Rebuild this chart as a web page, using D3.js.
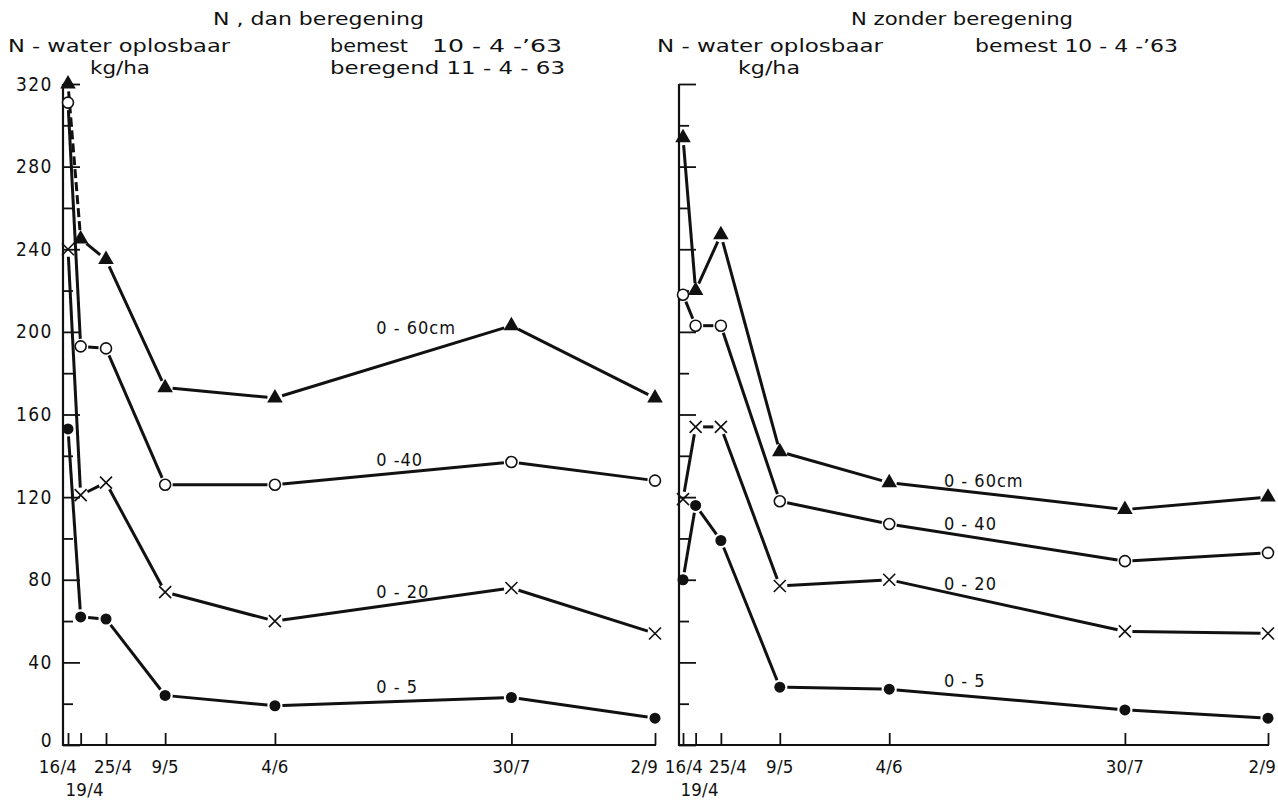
<!DOCTYPE html>
<html>
<head>
<meta charset="utf-8">
<script src="https://cdn.jsdelivr.net/npm/d3@7"></script>
<style>
  html, body { margin: 0; padding: 0; background: #fff; }
  svg { display: block; }
  text { font-family: "DejaVu Sans Condensed", "DejaVu Sans", sans-serif; fill: #111; }
</style>
</head>
<body>
<svg id="chart" width="1278" height="800"></svg>
<script>
// ---------- data ----------
const dates = ["1963-04-16", "1963-04-19", "1963-04-25", "1963-05-09", "1963-06-04", "1963-07-30", "1963-09-02"];
const dateLabels = ["16/4", "19/4", "25/4", "9/5", "4/6", "30/7", "2/9"];
const yTickValues = [0, 20, 40, 60, 80, 100, 120, 140, 160, 180, 200, 220, 240, 260, 280, 300, 320];
const yLabelValues = [0, 40, 80, 120, 160, 200, 240, 280, 320];
const seriesNames = ["0 - 60cm", "0 - 40", "0 - 20", "0 -  5"];
const seriesNamesLeft = ["0 - 60cm", "0 -40", "0 - 20", "0 -  5"];

// left panel: N, dan beregening
const leftTriangle = [320, 245, 235, 173, 168, 203, 168];
const leftCircle   = [311, 193, 192, 126, 126, 137, 128];
const leftCross    = [240, 121, 127, 74, 60, 76, 54];
const leftDot      = [153, 62, 61, 24, 19, 23, 13];

// right panel: N zonder beregening
const rightTriangle = [294, 220, 247, 142, 127, 114, 120];
const rightCircle   = [218, 203, 203, 118, 107, 89, 93];
const rightCross    = [119, 154, 154, 77, 80, 55, 54];
const rightDot      = [80, 116, 99, 28, 27, 17, 13];

// label anchor positions (data units: date, value)
const leftLabelDates  = ["1963-06-28", "1963-06-28", "1963-06-28", "1963-06-28"];
const leftLabelValues = [199, 135, 71, 25];
const rightLabelDates  = ["1963-06-17", "1963-06-17", "1963-06-17", "1963-06-17"];
const rightLabelValues = [125, 104, 75, 28];

// ---------- setup ----------
const parse = d3.timeParse("%Y-%m-%d");
const dateObjs = dates.map(parse);
const svg = d3.select("#chart");
const INK = "#111";

const y = d3.scaleLinear().domain([0, 320]).range([745, 84]);

function panel(opts) {
  const x = d3.scaleTime().domain([dateObjs[0], dateObjs[dateObjs.length - 1]]).range([opts.x0, opts.x1]);
  const g = svg.append("g");

  // y axis
  const yAxis = d3.axisLeft(y).tickValues(yTickValues).tickSize(-17).tickSizeOuter(0)
    .tickFormat(d => (opts.yLabels && yLabelValues.includes(d)) ? d : "");
  const ya = g.append("g").attr("transform", `translate(${opts.axisX},0)`).call(yAxis);
  ya.select(".domain").remove();
  ya.selectAll(".tick line").attr("stroke", INK).attr("stroke-width", 1.8)
    .attr("x2", d => (d % 40 === 0) ? 17 : 10);
  ya.selectAll(".tick text").attr("x", -10).style("font-size", "19px")
    .attr("dy", d => d === 0 ? "0.1em" : "0.32em")
    .style("letter-spacing", "1.5px").attr("fill", INK)
    .style("font-family", "\"DejaVu Sans Condensed\", \"DejaVu Sans\", sans-serif");
  g.append("line").attr("x1", opts.axisX).attr("x2", opts.axisX)
    .attr("y1", y(320)).attr("y2", y(0) + 1).attr("stroke", INK).attr("stroke-width", 2.2);

  // x axis
  const xAxis = d3.axisBottom(x).tickValues(dateObjs).tickSize(-12).tickSizeOuter(0).tickFormat("");
  const xa = g.append("g").attr("transform", `translate(0,${y(0)})`).call(xAxis);
  xa.select(".domain").remove();
  xa.selectAll(".tick line").attr("stroke", INK).attr("stroke-width", 1.8);
  g.append("line").attr("x1", opts.axisX).attr("x2", opts.x1 + 1)
    .attr("y1", y(0)).attr("y2", y(0)).attr("stroke", INK).attr("stroke-width", 2.2);

  // x tick labels (custom placement because of crowding)
  dateLabels.forEach((lab, i) => {
    const px = x(dateObjs[i]);
    let anchor = "middle", dx = 0, row = 0;
    if (i === 0) { anchor = "end"; dx = opts.firstDx; }
    if (i === 1) { row = 1; dx = 4; }
    if (i === 2) { anchor = "start"; dx = -12; }
    if (i === 6) { anchor = "end"; dx = opts.lastDx; }
    g.append("text").attr("x", px + dx).attr("y", row ? 796 : 773)
      .attr("text-anchor", anchor).style("font-size", "18.5px").style("letter-spacing", "0.2px")
      .text(lab);
  });

  // series
  const series = [
    { v: opts.tri, m: "triangle" },
    { v: opts.circ, m: "circle" },
    { v: opts.cross, m: "cross" },
    { v: opts.dot, m: "dot" }
  ];
  series.forEach((s, si) => {
    const pts = dateObjs.map((d, i) => [x(d), y(s.v[i])]);
    const gap = 7.5;
    for (let i = 0; i < pts.length - 1; i++) {
      const [x0, y0] = pts[i], [x1, y1] = pts[i + 1];
      const len = Math.hypot(x1 - x0, y1 - y0);
      if (len < 2 * gap + 1) continue;
      const ux = (x1 - x0) / len, uy = (y1 - y0) / len;
      const ln = g.append("line")
        .attr("x1", x0 + ux * gap).attr("y1", y0 + uy * gap)
        .attr("x2", x1 - ux * gap).attr("y2", y1 - uy * gap)
        .attr("stroke", INK).attr("stroke-width", 3).attr("stroke-linecap", "butt");
      if (opts.dashFirstTri && si === 0 && i === 0) ln.attr("stroke-dasharray", "9,4");
    }
    pts.forEach(([px, py]) => {
      if (s.m === "triangle") {
        g.append("path").attr("d", d3.symbol(d3.symbolTriangle, 105)())
          .attr("transform", `translate(${px},${py})`).attr("fill", INK);
      } else if (s.m === "circle") {
        g.append("circle").attr("cx", px).attr("cy", py).attr("r", 5.5)
          .attr("fill", "#fff").attr("stroke", INK).attr("stroke-width", 1.6);
      } else if (s.m === "cross") {
        const r = 6;
        g.append("path").attr("d", `M${px - r},${py - r}L${px + r},${py + r}M${px - r},${py + r}L${px + r},${py - r}`)
          .attr("stroke", INK).attr("stroke-width", 1.6).attr("fill", "none");
      } else {
        g.append("circle").attr("cx", px).attr("cy", py).attr("r", 5.5).attr("fill", INK);
      }
    });
  });

  // series labels
  opts.labels.forEach((lab, i) => {
    g.append("text").attr("x", x(parse(opts.labelDates[i])))
      .attr("y", y(opts.labelValues[i]))
      .style("font-size", "18px").style("letter-spacing", "1px")
      .text(lab);
  });
  return g;
}

panel({
  x0: 68, x1: 655, axisX: 63, yLabels: true, firstDx: 9, lastDx: 3,
  tri: leftTriangle, circ: leftCircle, cross: leftCross, dot: leftDot,
  dashFirstTri: true, labels: seriesNamesLeft,
  labelDates: leftLabelDates, labelValues: leftLabelValues
});
panel({
  x0: 683, x1: 1268, axisX: 679, yLabels: false, firstDx: 20, lastDx: 8,
  tri: rightTriangle, circ: rightCircle, cross: rightCross, dot: rightDot,
  dashFirstTri: false, labels: seriesNames,
  labelDates: rightLabelDates, labelValues: rightLabelValues
});

// headers
const headers = [
  { t: "N , dan beregening", x: 213, y: 25, w: 211 },
  { t: "N - water oplosbaar", x: 8, y: 52, w: 222 },
  { t: "bemest", x: 330, y: 52, w: 78 },
  { t: "10 - 4 -\u201963", x: 432, y: 52, w: 130 },
  { t: "kg/ha", x: 90, y: 74, w: 60 },
  { t: "beregend 11 - 4 - 63", x: 330, y: 74, w: 235 },
  { t: "N  zonder beregening", x: 851, y: 25, w: 222 },
  { t: "N - water oplosbaar", x: 657, y: 52, w: 226 },
  { t: "kg/ha", x: 738, y: 74, w: 62 },
  { t: "bemest 10 - 4 -\u201963", x: 975, y: 52, w: 203 }
];
headers.forEach(h => {
  svg.append("text").attr("x", h.x).attr("y", h.y)
    .attr("textLength", h.w).attr("lengthAdjust", "spacingAndGlyphs")
    .style("font-size", "17px").text(h.t);
});
</script>
</body>
</html>
